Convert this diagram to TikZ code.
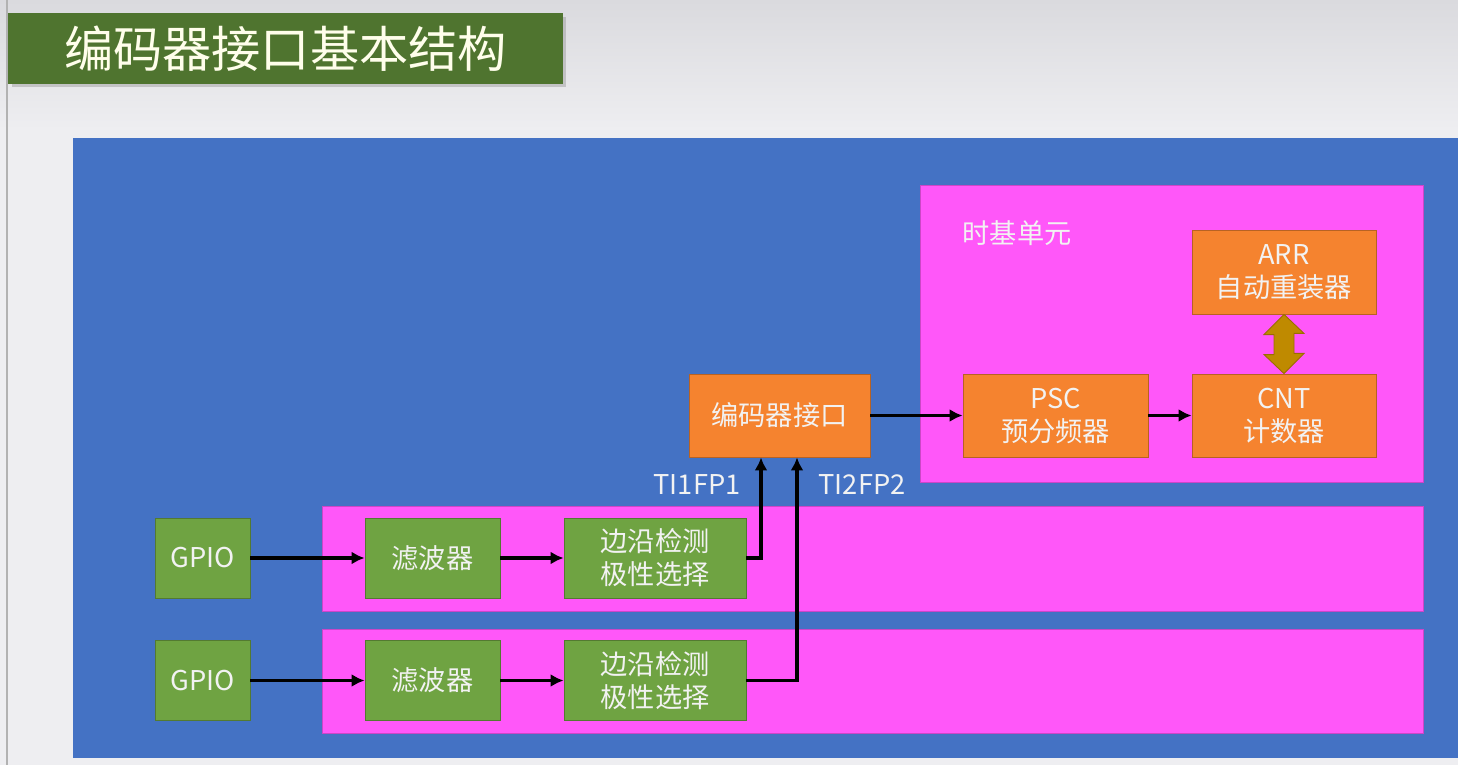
\documentclass[tikz,border=0pt]{standalone}
\usepackage{fontspec}
\setmainfont{Noto Sans CJK SC}
\usetikzlibrary{arrows.meta,shadows}
\definecolor{slidebg}{HTML}{EEEEF1}
\definecolor{slidetop}{HTML}{DADADE}
\definecolor{titlegreen}{HTML}{4F742F}
\definecolor{panelblue}{HTML}{4472C4}
\definecolor{unitpink}{HTML}{FF57F9}
\definecolor{boxgreen}{HTML}{6FA342}
\definecolor{boxorange}{HTML}{F5832F}
\definecolor{linkgold}{HTML}{BF8A00}
\begin{document}
\begin{tikzpicture}[x=0.02cm, y=-0.02cm,
  block/.style={draw=#1!75!black, fill=#1, text=white!95!black, inner sep=0pt, align=center,
    line width=0.5pt, font=\fontsize{15.5}{18.8}\selectfont},
  gbox/.style={block=boxgreen, minimum height=1.6cm},
  obox/.style={block=boxorange, minimum height=1.66cm},
  unit/.style={fill=unitpink, draw=unitpink!80!black, line width=0.4pt},
  lbl/.style={text=white!95!black, font=\fontsize{15.5}{18.8}\selectfont},
  conn/.style={line width=2.1pt, -{Latex[length=0.26cm,width=0.26cm]}}]
\useasboundingbox (0,0) rectangle (1458,765);
\fill [slidebg] (0,0) rectangle (1458,765);
\shade [top color=slidetop, bottom color=slidebg] (0,0) rectangle (1458,130);
\draw [gray!60, line width=0.6pt] (7,0) -- (7,765);
\node (title) [fill=titlegreen, drop shadow={opacity=0.35, shadow xshift=0.07cm, shadow yshift=-0.07cm},
  minimum width=11.1cm, minimum height=1.42cm, text=white!92!yellow, font=\fontsize{28}{34}\selectfont]
  at (285.5,48.5) {编码器接口基本结构};
\fill [panelblue] (73,138) rectangle (1458,758);
\draw [unit] (920,185) rectangle (1423,482);
\draw [unit] (322,506) rectangle (1423,611);
\draw [unit] (322,629) rectangle (1423,733);
\node (tbase) [lbl] at (1017,233) {时基单元};
% input channels
\node (gpioA) [gbox, minimum width=1.9cm] at (202.5,558) {GPIO};
\node (filtA) [gbox, minimum width=2.7cm] at (432.5,558) {滤波器};
\node (edgeA) [gbox, minimum width=3.64cm] at (655,558) {边沿检测\\极性选择};
\node (gpioB) [gbox, minimum width=1.9cm] at (202.5,680.5) {GPIO};
\node (filtB) [gbox, minimum width=2.7cm] at (432.5,680.5) {滤波器};
\node (edgeB) [gbox, minimum width=3.64cm] at (655,680.5) {边沿检测\\极性选择};
% encoder and time base
\node (enc) [obox, minimum width=3.62cm] at (779.5,415.5) {编码器接口};
\node (psc) [obox, minimum width=3.7cm] at (1055.5,415.5) {PSC\\预分频器};
\node (cnt) [obox, minimum width=3.68cm] at (1284,415.5) {CNT\\计数器};
\node (arr) [obox, minimum width=3.68cm, minimum height=1.68cm] at (1284,272) {ARR\\自动重装器};
\node (ti1) [lbl] at (697,485) {TI1FP1};
\node (ti2) [lbl] at (862,485) {TI2FP2};
\draw [conn] (gpioA) -- (filtA);
\draw [conn] (filtA) -- (edgeA);
\draw [conn] (gpioB) -- (filtB);
\draw [conn] (filtB) -- (edgeB);
\draw [conn] (edgeA.east) -| ([xshift=-0.37cm]enc.south);
\draw [conn] (edgeB.east) -| ([xshift=0.35cm]enc.south);
\draw [conn] (enc) -- (psc);
\draw [conn] (psc) -- (cnt);
\draw [fill=linkgold, draw=linkgold!80!black, line width=0.5pt]
  (arr.south) -- ++(20,19) -- ++(-10,0) -- ++(0,20) -- ++(10,0)
  -- (cnt.north) -- ++(-20,-19) -- ++(10,0) -- ++(0,-20) -- ++(-10,0) -- cycle;
\end{tikzpicture}
\end{document}
